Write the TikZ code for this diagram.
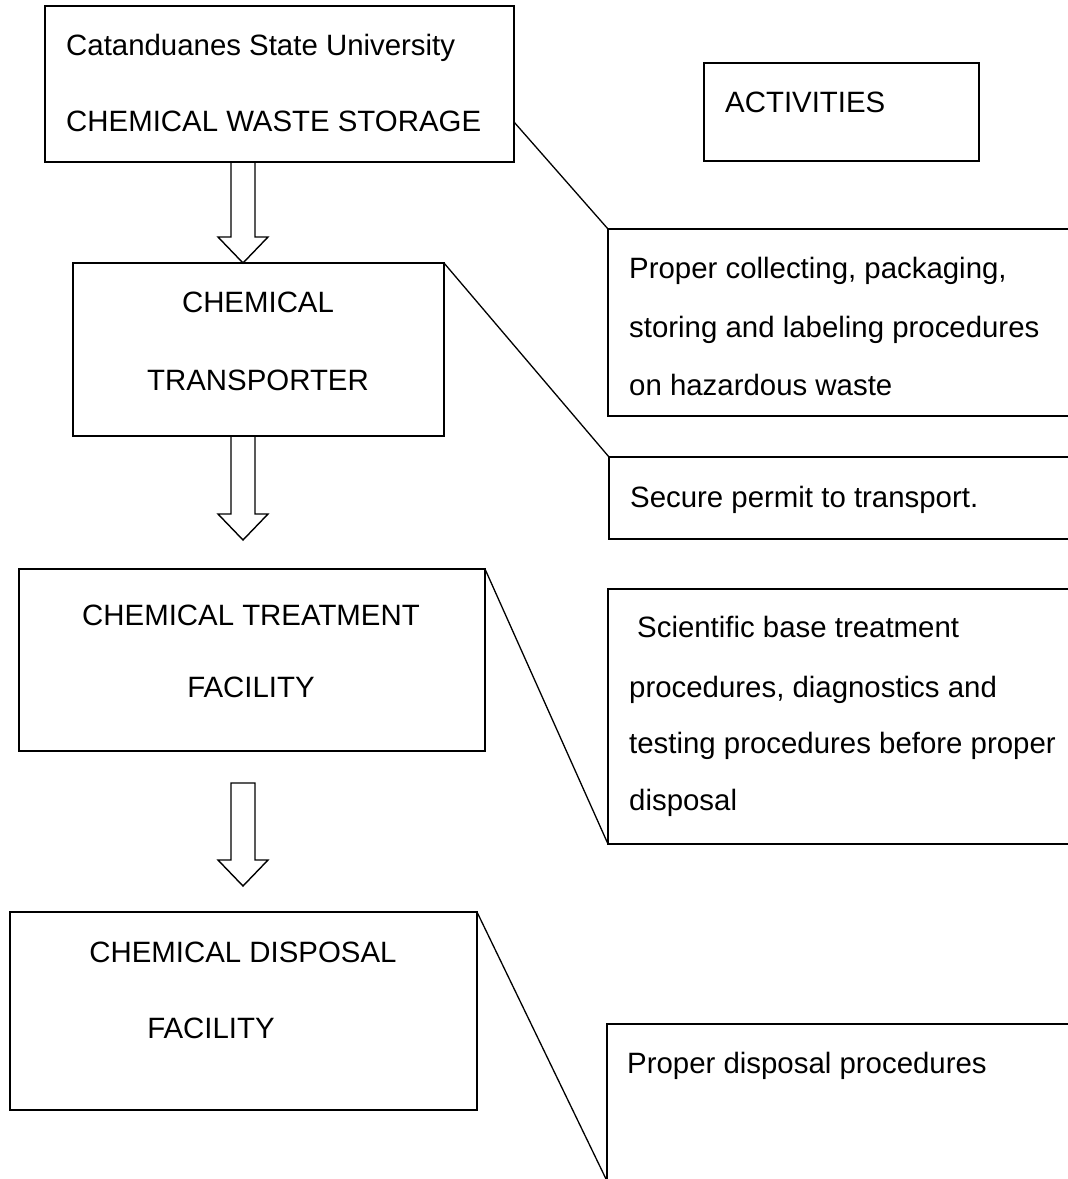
\documentclass[tikz,border=0pt]{standalone}
\usepackage{fontspec}
\setmainfont{Liberation Sans}
\usetikzlibrary{calc}
\tikzset{
  box/.style={draw, line width=1.4pt, inner sep=0pt, outer sep=0pt, anchor=north west},
  lbl/.style={inner sep=0pt, font=\fontsize{29.4}{35}\selectfont},
  link/.style={line width=1.3pt},
}
% hollow block arrow from a top point to a tip point
\newcommand{\blockarrow}[2]{%
  \draw[line width=1.4pt] let \p1=(#1), \p2=(#2) in
    (\x1-12pt,\y1) -- (\x1-12pt,\y2+26pt) -- (\x1-25pt,\y2+26pt) -- (\x2,\y2)
    -- (\x1+25pt,\y2+26pt) -- (\x1+12pt,\y2+26pt) -- (\x1+12pt,\y1) -- cycle;}
\begin{document}
\begin{tikzpicture}[x=1pt,y=-1pt]
\useasboundingbox (0,0) rectangle (1068,1179);
\clip (0,0) rectangle (1068,1179);
% left column
\node[box, minimum width=469pt, minimum height=156pt] (store) at (45,6) {};
\node[box, minimum width=371pt, minimum height=173pt] (trans) at (73,263) {};
\node[box, minimum width=466pt, minimum height=182pt] (treat) at (19,569) {};
\node[box, minimum width=467pt, minimum height=198pt] (disp) at (10,912) {};
% right column
\node[box, minimum width=275pt, minimum height=98pt] (acts) at (704,63) {};
\node[box, minimum width=500pt, minimum height=187pt] (act1) at (608,229) {};
\node[box, minimum width=500pt, minimum height=82pt] (act2) at (609,457) {};
\node[box, minimum width=500pt, minimum height=255pt] (act3) at (608,589) {};
\node[box, minimum width=500pt, minimum height=157pt] (act4) at (607,1024) {};
% texts
\node[lbl, anchor=base west] (storeA) at (66,55) {Catanduanes State University};
\node[lbl, anchor=base west] (storeB) at (66,131) {CHEMICAL WASTE STORAGE};
\node[lbl, anchor=base] (transA) at (258,312) {CHEMICAL};
\node[lbl, anchor=base] (transB) at (258,390) {TRANSPORTER};
\node[lbl, anchor=base] (treatA) at (251,625) {CHEMICAL TREATMENT};
\node[lbl, anchor=base] (treatB) at (251,697) {FACILITY};
\node[lbl, anchor=base] (dispA) at (243,962) {CHEMICAL DISPOSAL};
\node[lbl, anchor=base] (dispB) at (211,1038) {FACILITY};
\node[lbl, anchor=base west] (actsA) at (725,112) {ACTIVITIES};
\node[lbl, anchor=base west] (act1A) at (629,278) {Proper collecting, packaging,};
\node[lbl, anchor=base west] (act1B) at (629,337) {storing and labeling procedures};
\node[lbl, anchor=base west] (act1C) at (629,395) {on hazardous waste};
\node[lbl, anchor=base west] (act2A) at (630,507) {Secure permit to transport.};
\node[lbl, anchor=base west] (act3A) at (637,637) {Scientific base treatment};
\node[lbl, anchor=base west] (act3B) at (629,697) {procedures, diagnostics and};
\node[lbl, anchor=base west] (act3C) at (629,753) {testing procedures before proper};
\node[lbl, anchor=base west] (act3D) at (629,810) {disposal};
\node[lbl, anchor=base west] (act4A) at (627,1073) {Proper disposal procedures};
% links to activities
\draw[link] ([yshift=-116pt]store.north east) -- (act1.north west);
\draw[link] (trans.north east) -- (act2.north west);
\draw[link] (treat.north east) -- (act3.south west);
\draw[link] (disp.north east) -- (act4.south west);
% block arrows
\coordinate (a1top) at (243,162); \coordinate (a1tip) at (243,263);
\coordinate (a2top) at (243,436); \coordinate (a2tip) at (243,540);
\coordinate (a3top) at (243,783); \coordinate (a3tip) at (243,886);
\blockarrow{a1top}{a1tip}
\blockarrow{a2top}{a2tip}
\blockarrow{a3top}{a3tip}
\end{tikzpicture}
\end{document}
